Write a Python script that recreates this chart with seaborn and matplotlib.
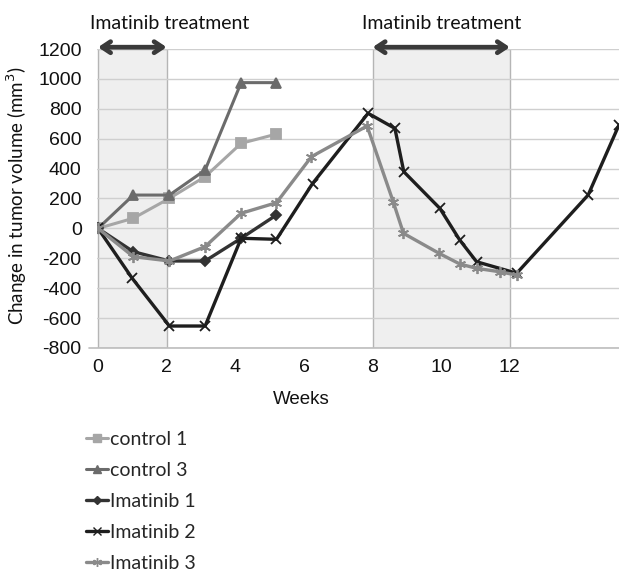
import matplotlib

matplotlib.use("Agg")
import matplotlib.pyplot as plt
import seaborn as sns
from matplotlib.lines import Line2D

# --------------------------------------------------------------------- #
# Data (weeks vs change in tumor volume, mm^3)
# --------------------------------------------------------------------- #
CONTROL1_WEEKS = [0, 1.03, 2.08, 3.12, 4.17, 5.2]
CONTROL1_VALUES = [0, 68, 201, 346, 569, 631]

CONTROL3_WEEKS = [0, 1.03, 2.08, 3.12, 4.17, 5.2]
CONTROL3_VALUES = [0, 223, 223, 390, 975, 975]

IMATINIB1_WEEKS = [0, 1.03, 2.08, 3.12, 4.17, 5.2]
IMATINIB1_VALUES = [0, -156, -218, -218, -66, 90]

IMATINIB2_WEEKS = [0, 1.0, 2.08, 3.12, 4.17, 5.2, 6.25, 7.87, 8.65,
                   8.91, 9.96, 10.54, 11.03, 12.2, 14.28, 15.18]
IMATINIB2_VALUES = [0, -335, -653, -653, -66, -73, 300, 770, 669,
                    379, 134, -78, -223, -300, 223, 692]

IMATINIB3_WEEKS = [0, 1.03, 2.08, 3.12, 4.17, 5.2, 6.22, 7.84, 8.6,
                   8.9, 9.94, 10.54, 11.03, 11.7, 12.2]
IMATINIB3_VALUES = [0, -189, -218, -122, 101, 172, 480, 685, 179,
                    -33, -167, -238, -267, -290, -312]

TREATMENT_PERIODS = [(0, 2), (8, 12)]
TREATMENT_LABEL_X = [2.1, 10.0]
X_TICKS = [0, 2, 4, 6, 8, 10, 12]
Y_TICKS = list(range(-800, 1201, 200))

SERIES = [
    ("control 1", CONTROL1_WEEKS, CONTROL1_VALUES, "#a6a6a6", "s", 7, 2.2),
    ("control 3", CONTROL3_WEEKS, CONTROL3_VALUES, "#6b6b6b", "^", 7, 2.2),
    ("Imatinib 1", IMATINIB1_WEEKS, IMATINIB1_VALUES, "#333333", "D", 5, 2.4),
    ("Imatinib 2", IMATINIB2_WEEKS, IMATINIB2_VALUES, "#1e1e1e", "x", 7, 2.4),
    ("Imatinib 3", IMATINIB3_WEEKS, IMATINIB3_VALUES, "#8a8a8a", (6, 2, 0), 8, 2.4),
]

TEXT_FONT = ["Lato", "DejaVu Sans"]
NUM_FONT = ["Liberation Sans", "DejaVu Sans"]

sns.set_style("white")
plt.rcParams["font.family"] = NUM_FONT
plt.rcParams["axes.unicode_minus"] = False

fig = plt.figure(figsize=(6.19, 5.71), dpi=100)
ax = fig.add_axes([97 / 619, 1 - 348 / 571, 522 / 619, 299 / 571])

# shaded treatment windows
for start, end in TREATMENT_PERIODS:
    ax.axvspan(start, end, facecolor="#efefef", edgecolor="#b5b5b5",
               linewidth=1.0, zorder=0.5)

for label, weeks, values, color, marker, msize, lw in SERIES:
    sns.lineplot(x=weeks, y=values, ax=ax, color=color, marker=marker,
                 markersize=msize, linewidth=lw, markeredgecolor=color,
                 markeredgewidth=1.3, sort=False, zorder=3)

ax.set_xlim(-0.03, 15.18)
ax.set_ylim(-800, 1200)
ax.set_xticks(X_TICKS)
ax.set_yticks(Y_TICKS)
ax.grid(axis="y", color="#cfcfcf", linewidth=1.0, zorder=0)
ax.set_axisbelow(True)
for side in ["top", "right", "left", "bottom"]:
    ax.spines[side].set_visible(False)
ax.plot([-0.016, 1], [0, 0], transform=ax.transAxes, color="#bdbdbd",
        linewidth=1.2, clip_on=False, zorder=1)
ax.tick_params(axis="both", length=0, labelsize=14, colors="#111111")
ax.tick_params(axis="y", pad=11)
ax.tick_params(axis="x", pad=8)

ax.set_xlabel("Weeks", fontsize=13.5, color="#111111")
ax.xaxis.set_label_coords((301 - 97) / 522, -0.145)
ax.set_ylabel("Change in tumor volume (mm$^3$)", fontsize=13.5,
              family=TEXT_FONT, color="#111111")
ax.yaxis.set_label_coords(-0.131, 0.51)

# treatment arrows + labels
for (start, end), label_x in zip(TREATMENT_PERIODS, TREATMENT_LABEL_X):
    ax.annotate("", xy=(start, 1212), xytext=(end, 1212),
                arrowprops=dict(arrowstyle="<->,head_length=0.6,head_width=0.4",
                                color="#3a3a3a", linewidth=3.4,
                                shrinkA=0, shrinkB=0),
                annotation_clip=False)
    ax.text(label_x, 1370, "Imatinib treatment", ha="center",
            va="center", fontsize=14, family=TEXT_FONT, color="#111111")

handles = [Line2D([], [], color=c, marker=m, markersize=ms * 0.8,
                  markeredgecolor=c, linewidth=lw)
           for _, _, _, c, m, ms, lw in SERIES]
labels = [s[0] for s in SERIES]
fig.legend(handles, labels, loc="upper left",
           bbox_to_anchor=(78 / 619, 1 - 423 / 571), frameon=False,
           prop={"family": TEXT_FONT, "size": 14}, handlelength=1.15,
           handletextpad=0.1, labelspacing=0.72, borderaxespad=0)

fig.savefig("out.png", dpi=100)
